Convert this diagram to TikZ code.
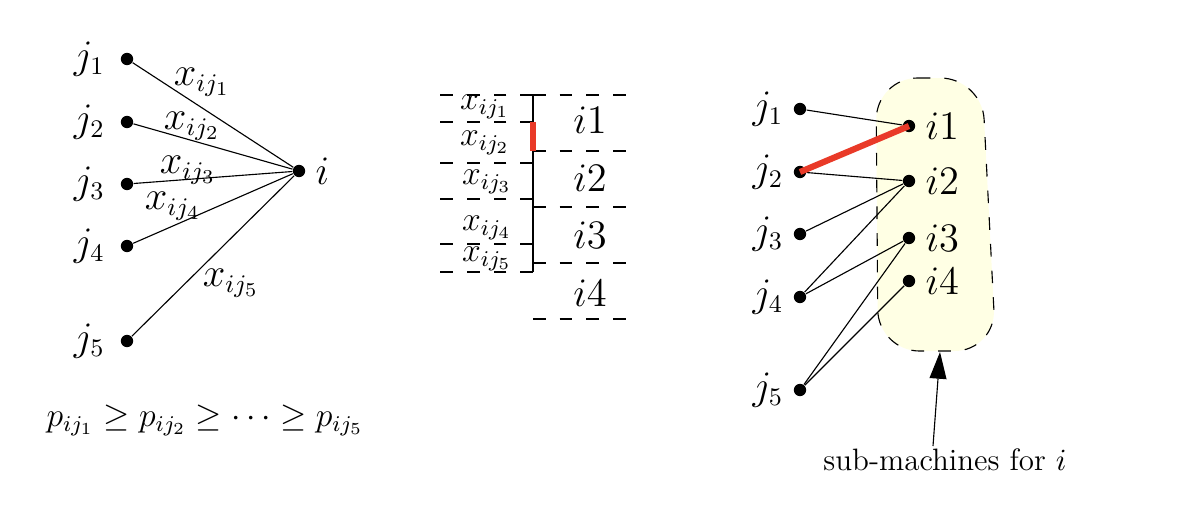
\documentclass[tikz,border=0pt]{standalone}
\usetikzlibrary{positioning, arrows.meta}

\definecolor{hlred}{RGB}{233,58,40}
\definecolor{blobfill}{RGB}{255,255,228}
\tikzset{
 dot/.style={circle, fill, inner sep=0pt, minimum size=4.4pt},
 cut/.style={dash pattern=on 4.5pt off 5pt},
 hl/.style={hlred, line width=2.2pt},
 stack/.style={inner sep=0pt, font=\large},
}

\begin{document}
\begin{tikzpicture}[x=0.125mm, y=-0.125mm, font=\fontsize{13.5}{16}\selectfont]
 \useasboundingbox (0,0) rectangle (1184,520);

 % jobs j to machine i
 \node[dot, label={[label distance=0pt]right:$i$}] (i) at (299,171) {};
 \foreach \k/\y in {1/59, 2/122, 3/184, 4/246, 5/341} {
  \node[dot, label={[label distance=2pt]left:$j_{\k}$}] (j\k) at (127,\y) {};
  \draw (j\k) -- (i);
 }
 \node (e1) at (202,82) {$x_{ij_1}$};
 \node (e2) at (192,126) {$x_{ij_2}$};
 \node (e3) at (188,170) {$x_{ij_3}$};
 \node (e4) at (173,206) {$x_{ij_4}$};
 \node (e5) at (231,283) {$x_{ij_5}$};
 \node[font=\fontsize{11.5}{14}\selectfont] (order) at (205,420)
  {$p_{ij_1} \ge p_{ij_2} \ge \cdots \ge p_{ij_5}$};

 % stacking x's into sub-machines
 \draw (533,95) -- (533,272);
 \foreach \y in {95, 122, 163, 199, 244, 272}
  \draw[cut] (533,\y) -- (435,\y);
 \foreach \y in {95, 151, 207, 263, 319}
  \draw[cut] (533,\y) -- (632,\y);
 \draw[hl] (533,122) -- (533,151);
 \node[stack] (x1) at (485,107) {$x_{ij_1}$};
 \node[stack] (x2) at (485,143) {$x_{ij_2}$};
 \node[stack] (x3) at (487,182) {$x_{ij_3}$};
 \node[stack] (x4) at (487,228) {$x_{ij_4}$};
 \node[stack] (x5) at (487,259) {$x_{ij_5}$};
 \foreach \k/\y in {1/120, 2/178, 3/235, 4/293}
  \node (c\k) at (590,\y) {$i\k$};

 % sub-machines graph
 \draw[cut, fill=blobfill, rounded corners=5.2mm]
  (876,78) -- (982,78) -- (996,351) -- (878,351) -- cycle;
 \foreach \k/\y in {1/126, 2/181, 3/238, 4/281}
  \node[dot, label={[label distance=0pt]right:$i\k$}] (s\k) at (909,\y) {};
 \foreach \k/\y in {1/109, 2/172, 3/234, 4/297, 5/390}
  \node[dot, label={[label distance=0pt]left:$j_{\k}$}] (r\k) at (800,\y) {};
 \foreach \a/\b in {1/1, 2/2, 3/2, 4/2, 4/3, 5/3, 5/4}
  \draw (r\a) -- (s\b);
 \draw[hl] (r2.center) -- (s1.center);

 \node[font=\fontsize{11}{13}\selectfont] (sub) at (945,460) {sub-machines for $i$};
 \coordinate (foot) at (933,446);
 \coordinate (tip) at (940,352);
 \draw[-{Triangle[width=6pt, length=9.5pt]}] (foot) -- (tip);
\end{tikzpicture}
\end{document}
